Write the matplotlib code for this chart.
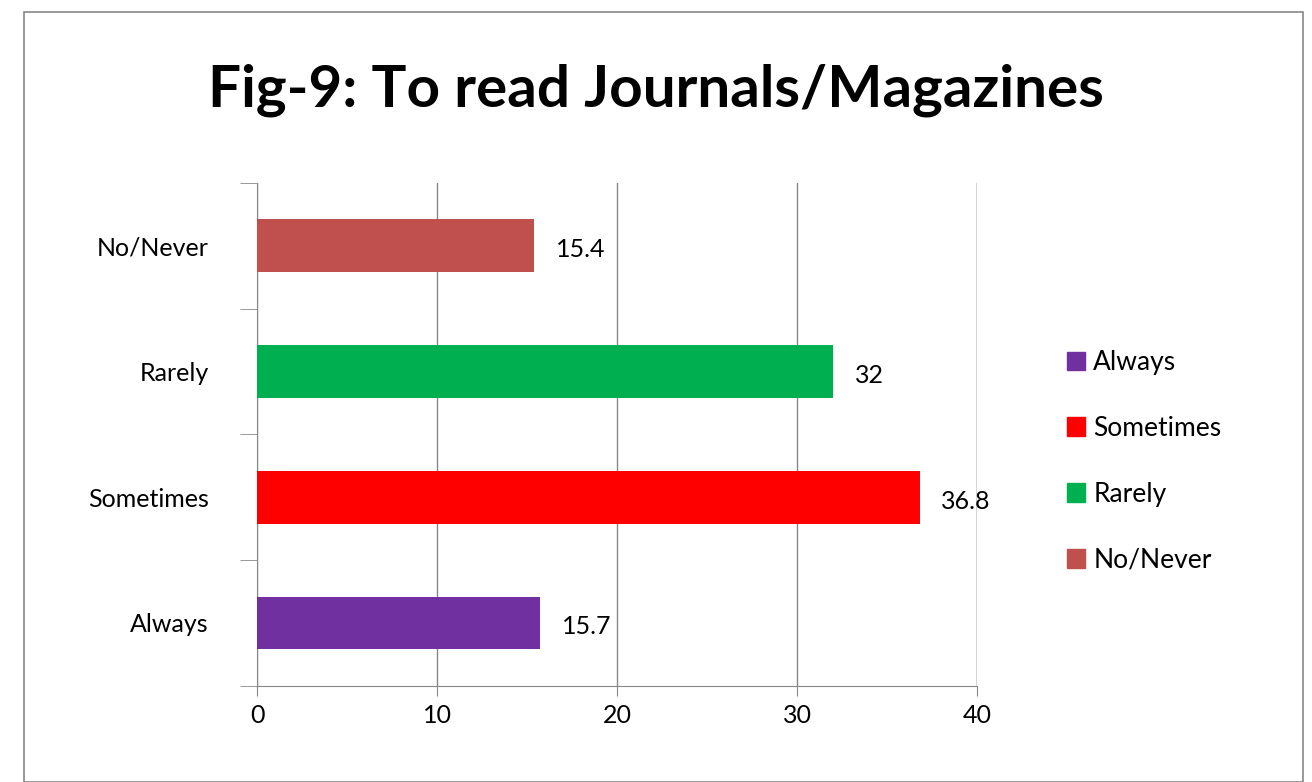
import numpy as np
import matplotlib.pyplot as plt
from matplotlib.patches import Rectangle, Patch

categories = ["Always", "Sometimes", "Rarely", "No/Never"]
values = [15.7, 36.8, 32, 15.4]
labels = ["15.7", "36.8", "32", "15.4"]
colors = ["#7030A0", "#FF0000", "#00B050", "#C0504D"]

plt.rcParams["font.family"] = ["Lato", "DejaVu Sans"]
fig = plt.figure(figsize=(13.12, 7.82), dpi=100)
fig.patches.append(Rectangle((0.018, 0.0), 0.975, 0.985, transform=fig.transFigure,
                             fill=False, edgecolor="#888888", linewidth=1.2))
ax = fig.add_axes([0.196, 0.123, 0.549, 0.643])

y = np.arange(len(categories))
ax.barh(y, values, height=0.42, color=colors, zorder=3)
for yi, v, t in zip(y, values, labels):
    ax.text(v + 1.2, yi - 0.03, t, va="center", ha="left", fontsize=18, zorder=4)

ax.set_xlim(0, 40)
ax.set_ylim(-0.5, 3.5)
ax.set_xticks([0, 10, 20, 30, 40])
ax.tick_params(axis="x", labelsize=18, length=7, color="#888888", pad=6)
ax.set_yticks(np.arange(-0.5, 4.0, 1.0), minor=True)
ax.set_yticks(y)
ax.set_yticklabels(categories)
ax.tick_params(axis="y", which="major", length=0, pad=35, labelsize=18)
ax.tick_params(axis="y", which="minor", length=12, color="#888888")
ax.grid(axis="x", color="#888888", linewidth=1.0, zorder=0)
ax.axvline(40, color="#888888", linewidth=1.0, zorder=0)
for s in ["top", "right"]:
    ax.spines[s].set_visible(False)
for s in ["left", "bottom"]:
    ax.spines[s].set_color("#888888")

fig.text(0.5, 0.885, "Fig-9: To read Journals/Magazines", ha="center", va="center",
         fontsize=42, fontweight="bold")

handles = [Patch(color=c, label=l) for c, l in zip(colors, categories)]
fig.legend(handles=handles, loc="center left", bbox_to_anchor=(0.795, 0.41),
           frameon=False, fontsize=19, handlelength=0.7, handleheight=0.7,
           handletextpad=0.3, labelspacing=1.55)

fig.savefig("out.png", dpi=100)
